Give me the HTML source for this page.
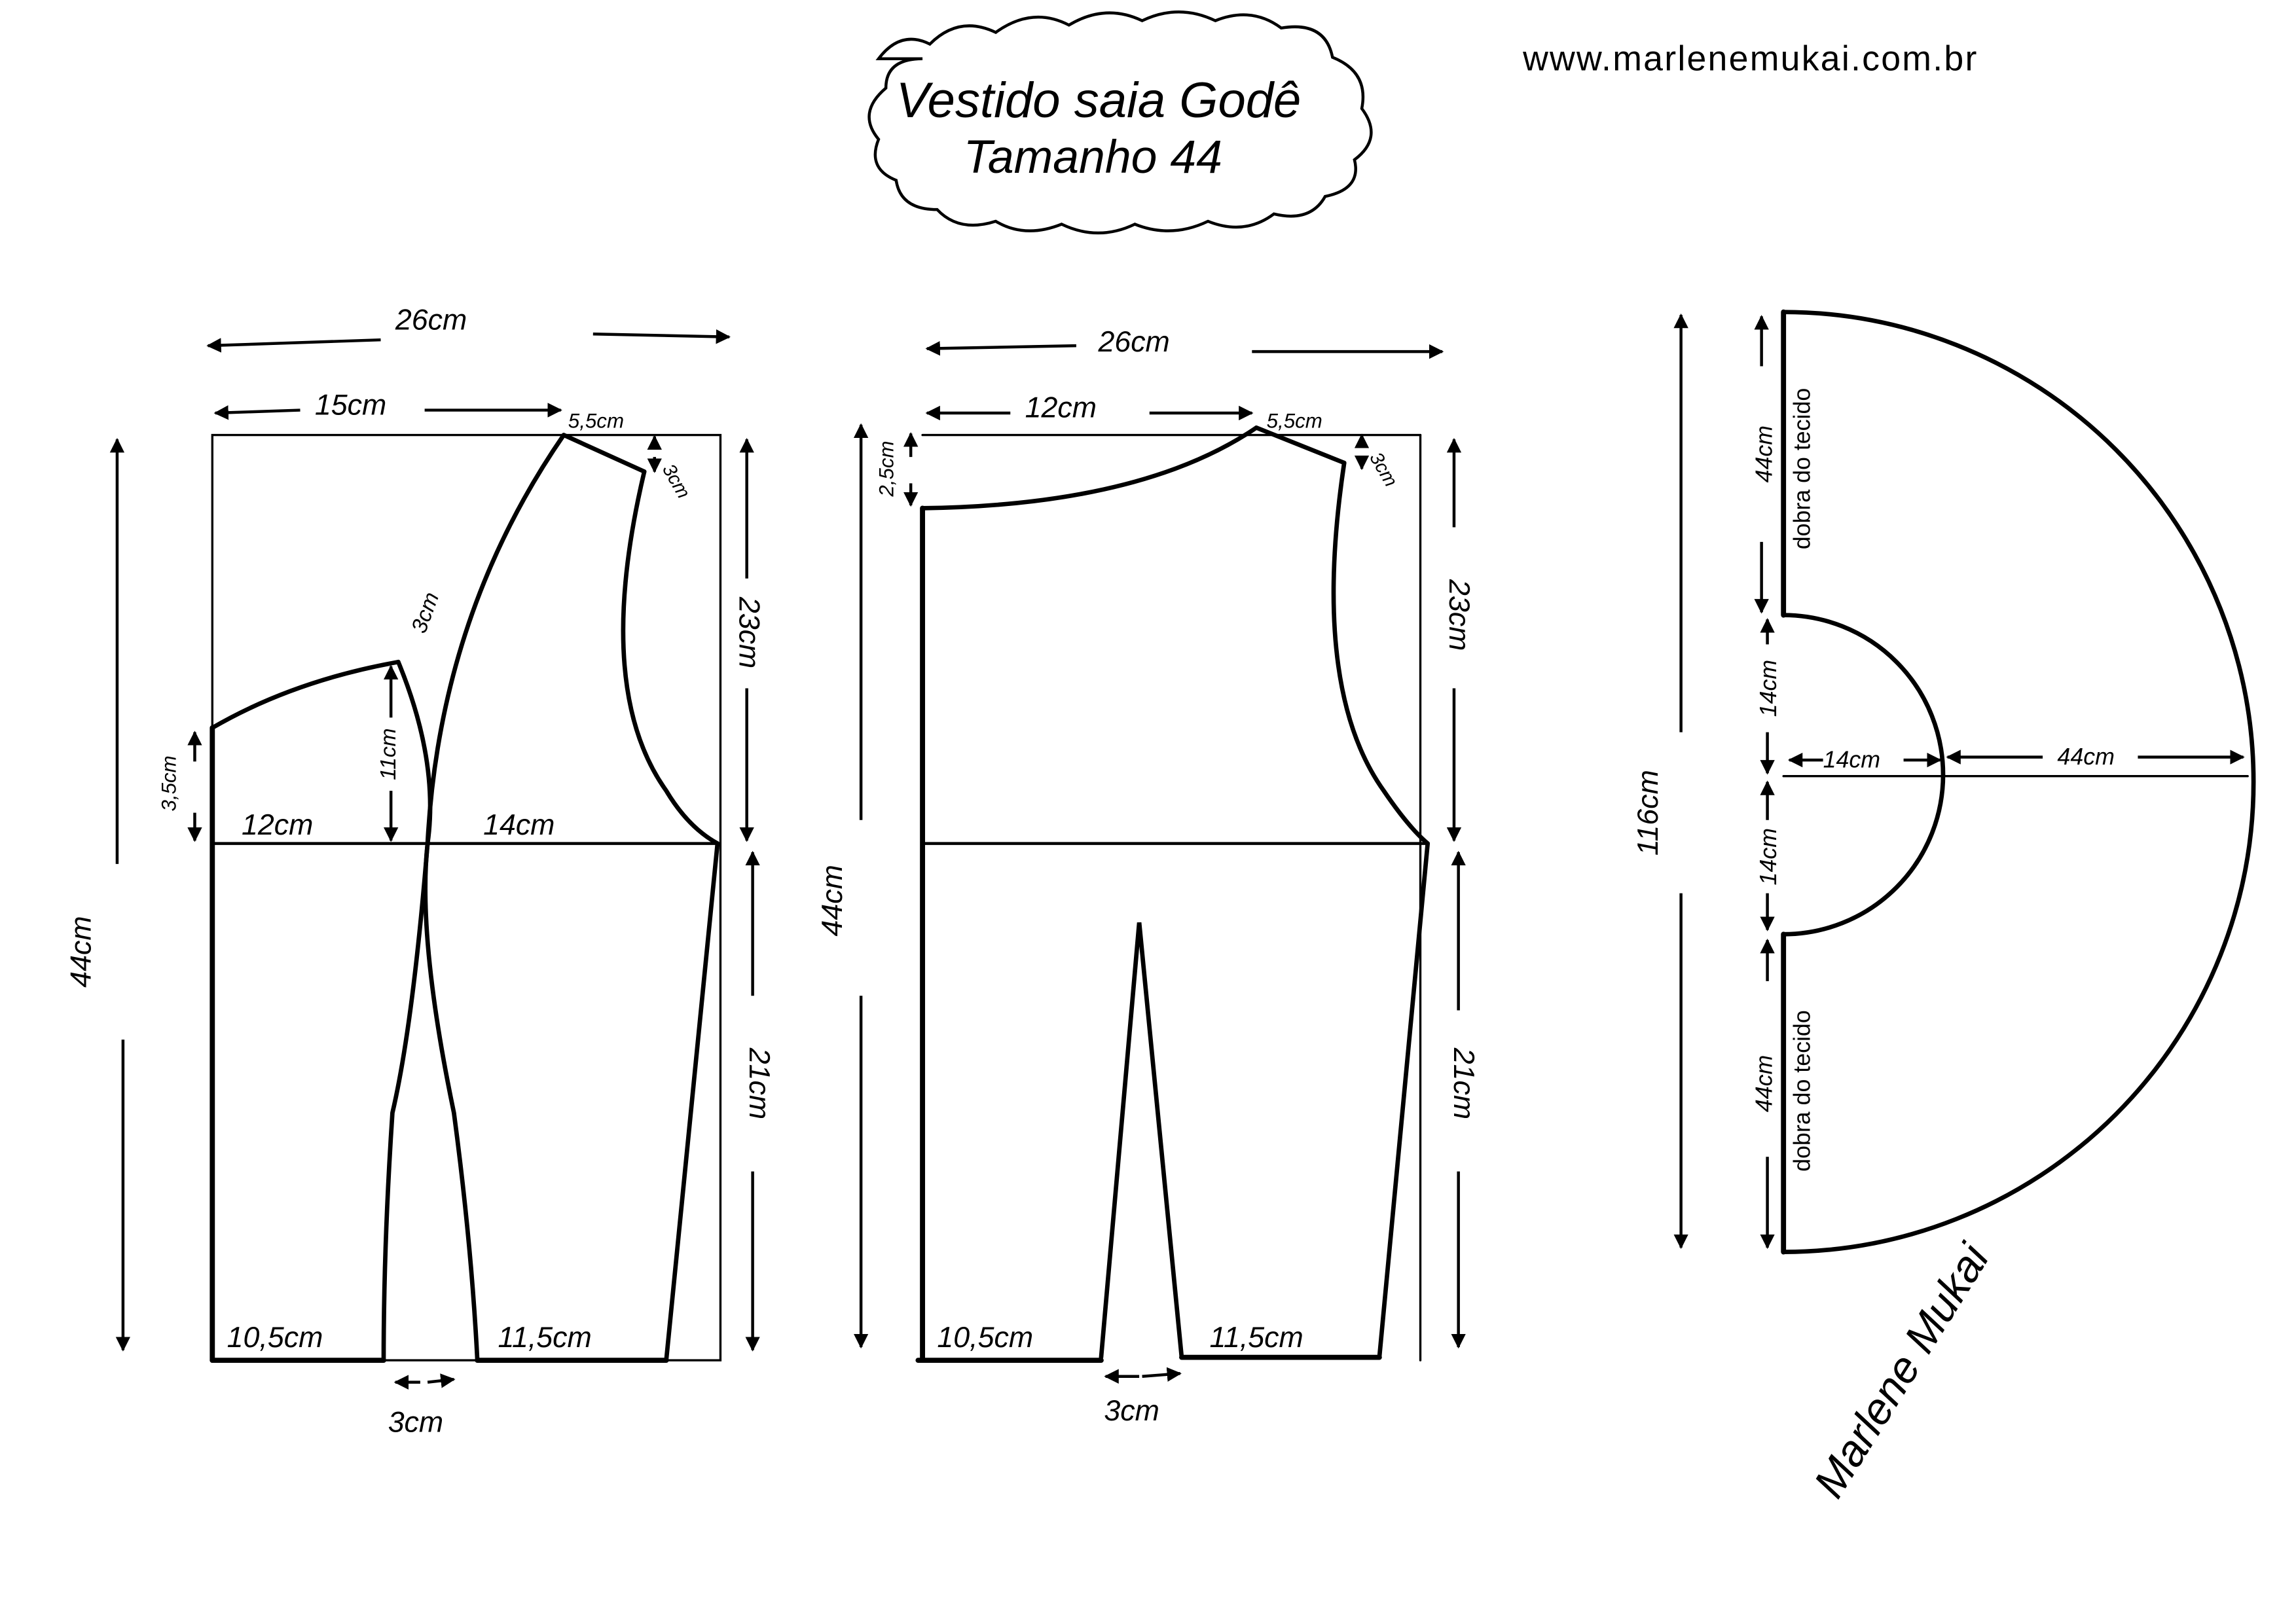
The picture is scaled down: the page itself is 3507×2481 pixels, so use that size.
<!DOCTYPE html>
<html><head><meta charset="utf-8"><style>
html,body{margin:0;padding:0;background:#fff;}
svg{display:block;}
text{font-family:"Liberation Sans",sans-serif;fill:#000;}
</style></head><body>
<svg width="3507" height="2481" viewBox="0 0 1568 1109" xmlns="http://www.w3.org/2000/svg">
<defs>
<marker id="a" viewBox="0 0 10 10" refX="9" refY="5" markerWidth="5" markerHeight="5" orient="auto-start-reverse"><path d="M0,0 L10,5 L0,10 z" fill="#000"/></marker>
</defs>
<rect width="1568" height="1109" fill="#fff"/>
<g fill="none" stroke="#000" stroke-width="2" stroke-linecap="round">
<path d="M600,40 q15,-20 35,-10 q20,-20 45,-8 q25,-18 50,-5 q25,-15 50,-3 q25,-12 50,0 q25,-10 45,5 q30,-5 35,20 q25,10 20,35 q15,20 -5,35 q5,20 -20,25 q-10,18 -35,12 q-20,15 -45,5 q-25,12 -50,2 q-25,12 -50,0 q-25,10 -45,-2 q-25,8 -40,-8 q-25,0 -28,-20 q-20,-8 -12,-28 q-15,-18 5,-35 q0,-20 25,-20 z"/>
<rect x="145" y="297" width="347" height="632" stroke-width="1.5"/>
<line x1="145" y1="576" x2="490" y2="576"/>
<line x1="145" y1="497" x2="145" y2="929" stroke-width="3.5"/>
<line x1="145" y1="929" x2="262" y2="929" stroke-width="3.5"/>
<line x1="326" y1="929" x2="455" y2="929" stroke-width="3.5"/>
<path d="M145,497 Q200,465 272,452" stroke-width="3"/>
<path d="M272,452 Q300,520 292,576 Q285,640 310,760 Q322,850 326,929" stroke-width="3"/>
<path d="M385,297 Q300,420 292,576 Q282,700 268,760 Q262,850 262,929" stroke-width="3"/>
<line x1="385" y1="297" x2="440" y2="322" stroke-width="3"/>
<path d="M440,322 Q405,470 455,540 Q470,565 490,576" stroke-width="3"/>
<line x1="490" y1="576" x2="455" y2="929" stroke-width="3"/>
<line x1="630" y1="297" x2="970" y2="297" stroke-width="1.5"/>
<line x1="970" y1="297" x2="970" y2="929" stroke-width="1.5"/>
<line x1="630" y1="576" x2="975" y2="576"/>
<line x1="630" y1="347" x2="630" y2="929" stroke-width="3.5"/>
<line x1="627" y1="929" x2="752" y2="929" stroke-width="3.5"/>
<line x1="807" y1="927" x2="942" y2="927" stroke-width="3.5"/>
<path d="M630,347 Q780,345 858,292" stroke-width="3"/>
<line x1="858" y1="292" x2="918" y2="316" stroke-width="3"/>
<path d="M918,316 Q895,470 945,540 Q962,565 975,576" stroke-width="3"/>
<line x1="975" y1="576" x2="942" y2="927" stroke-width="3"/>
<path d="M752,927 L778,630 L807,927" stroke-width="3"/>
<path d="M1218,213 A318,318 0 0 1 1218,855" stroke-width="3"/>
<path d="M1218,420 A108,108 0 0 1 1218,638" stroke-width="3"/>
<line x1="1218" y1="213" x2="1218" y2="420" stroke-width="3.5"/>
<line x1="1218" y1="638" x2="1218" y2="855" stroke-width="3.5"/>
<line x1="1218" y1="530" x2="1535" y2="530" stroke-width="1.5"/>
</g>
<g stroke="#000" stroke-width="2" fill="none" marker-end="url(#a)">
<line x1="260" y1="232" x2="142" y2="236"/><line x1="405" y1="228" x2="498" y2="230"/>
<line x1="205" y1="280" x2="147" y2="282"/><line x1="290" y1="280" x2="383" y2="280"/>
<line x1="80" y1="590" x2="80" y2="300"/><line x1="84" y1="710" x2="84" y2="922"/>
<line x1="510" y1="395" x2="510" y2="300"/><line x1="510" y1="470" x2="510" y2="574"/>
<line x1="514" y1="680" x2="514" y2="582"/><line x1="514" y1="800" x2="514" y2="922"/>
<line x1="133" y1="520" x2="133" y2="500"/><line x1="133" y1="555" x2="133" y2="574"/>
<line x1="267" y1="490" x2="267" y2="455"/><line x1="267" y1="540" x2="267" y2="574"/>
<line x1="287" y1="944" x2="270" y2="944"/><line x1="292" y1="944" x2="310" y2="942"/>
<line x1="735" y1="236" x2="633" y2="238"/><line x1="855" y1="240" x2="985" y2="240"/>
<line x1="690" y1="282" x2="633" y2="282"/><line x1="785" y1="282" x2="855" y2="282"/>
<line x1="588" y1="560" x2="588" y2="290"/><line x1="588" y1="680" x2="588" y2="920"/>
<line x1="622" y1="312" x2="622" y2="296"/><line x1="622" y1="330" x2="622" y2="345"/>
<line x1="993" y1="360" x2="993" y2="300"/><line x1="993" y1="470" x2="993" y2="574"/>
<line x1="996" y1="690" x2="996" y2="582"/><line x1="996" y1="800" x2="996" y2="920"/>
<line x1="778" y1="940" x2="755" y2="940"/><line x1="780" y1="940" x2="806" y2="938"/>
<line x1="1148" y1="500" x2="1148" y2="215"/><line x1="1148" y1="610" x2="1148" y2="852"/>
<line x1="1203" y1="250" x2="1203" y2="216"/><line x1="1203" y1="370" x2="1203" y2="418"/>
<line x1="1207" y1="440" x2="1207" y2="423"/><line x1="1207" y1="500" x2="1207" y2="528"/>
<line x1="1207" y1="560" x2="1207" y2="534"/><line x1="1207" y1="610" x2="1207" y2="635"/>
<line x1="1207" y1="670" x2="1207" y2="642"/><line x1="1207" y1="790" x2="1207" y2="852"/>
<line x1="1245" y1="519" x2="1222" y2="519"/><line x1="1300" y1="519" x2="1325" y2="519"/>
<line x1="1395" y1="517" x2="1330" y2="517"/><line x1="1460" y1="517" x2="1532" y2="517"/>
<line x1="447" y1="305" x2="447" y2="298"/><line x1="447" y1="312" x2="447" y2="322"/>
<line x1="930" y1="305" x2="930" y2="297"/><line x1="930" y1="312" x2="930" y2="320"/>
</g>
<text x="612" y="80" font-size="34" font-style="italic">Vestido  saia  Godê</text>
<text x="658" y="118" font-size="32" font-style="italic">Tamanho  44</text>
<text x="1040" y="48" font-size="24" letter-spacing="1">www.marlenemukai.com.br</text>
<g font-size="20" font-style="italic">
<text x="270" y="225">26cm</text>
<text x="215" y="283">15cm</text>
<text x="388" y="292" font-size="14">5,5cm</text>
<text x="165" y="570">12cm</text>
<text x="330" y="570">14cm</text>
<text x="155" y="920">10,5cm</text>
<text x="340" y="920">11,5cm</text>
<text x="265" y="978">3cm</text>
<text x="750" y="240">26cm</text>
<text x="700" y="285">12cm</text>
<text x="865" y="292" font-size="14">5,5cm</text>
<text x="640" y="920">10,5cm</text>
<text x="826" y="920">11,5cm</text>
<text x="754" y="970">3cm</text>
<text x="1245" y="524" font-size="16">14cm</text>
<text x="1405" y="522" font-size="16">44cm</text>
</g>
<g font-size="20" font-style="italic">
<text transform="translate(62,650) rotate(-90)" text-anchor="middle">44cm</text>
<text transform="translate(575,615) rotate(-90)" text-anchor="middle">44cm</text>
<text transform="translate(1132,555) rotate(-90)" text-anchor="middle">116cm</text>
<text transform="translate(505,432) rotate(90)" text-anchor="middle">23cm</text>
<text transform="translate(512,740) rotate(90)" text-anchor="middle">21cm</text>
<text transform="translate(990,420) rotate(90)" text-anchor="middle">23cm</text>
<text transform="translate(993,740) rotate(90)" text-anchor="middle">21cm</text>
<text transform="translate(120,535) rotate(-90)" text-anchor="middle" font-size="14">3,5cm</text>
<text transform="translate(270,515) rotate(-90)" text-anchor="middle" font-size="15">11cm</text>
<text transform="translate(295,420) rotate(-70)" text-anchor="middle" font-size="15">3cm</text>
<text transform="translate(610,320) rotate(-90)" text-anchor="middle" font-size="14">2,5cm</text>
<text transform="translate(452,320) rotate(60)" font-size="13">3cm</text>
<text transform="translate(935,312) rotate(60)" font-size="13">3cm</text>
<text transform="translate(1210,310) rotate(-90)" text-anchor="middle" font-size="16">44cm</text>
<text transform="translate(1213,470) rotate(-90)" text-anchor="middle" font-size="16">14cm</text>
<text transform="translate(1213,585) rotate(-90)" text-anchor="middle" font-size="16">14cm</text>
<text transform="translate(1210,740) rotate(-90)" text-anchor="middle" font-size="16">44cm</text>
<text transform="translate(1236,320) rotate(-90)" text-anchor="middle" font-size="16" font-style="normal">dobra do tecido</text>
<text transform="translate(1236,745) rotate(-90)" text-anchor="middle" font-size="16" font-style="normal">dobra do tecido</text>
</g>
<text transform="translate(1255,1025) rotate(-58)" font-size="30" font-style="italic">Marlene Mukai</text>
</svg>
</body></html>
